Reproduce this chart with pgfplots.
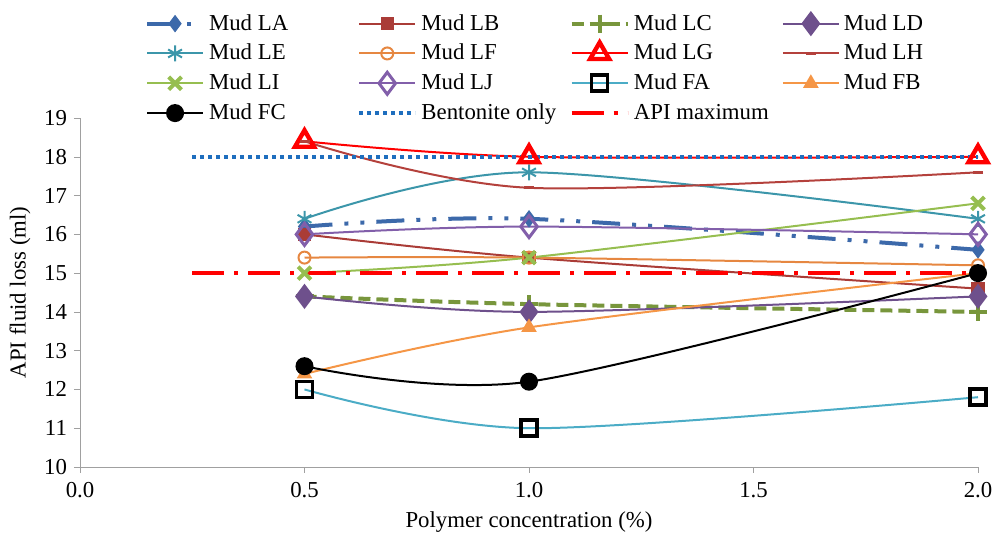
\documentclass[border=0pt]{standalone}
\usepackage{pgfplots}
\pgfplotsset{compat=1.18}
\usepackage{fontspec}
\setmainfont{Liberation Serif}
\definecolor{cLA}{RGB}{60,105,170}
\definecolor{cLB}{RGB}{170,60,55}
\definecolor{cLC}{RGB}{120,150,60}
\definecolor{cLD}{RGB}{110,80,140}
\definecolor{cLE}{RGB}{60,150,170}
\definecolor{cLF}{RGB}{230,135,65}
\definecolor{cLG}{RGB}{255,0,0}
\definecolor{cLH}{RGB}{180,65,60}
\definecolor{cLI}{RGB}{150,190,80}
\definecolor{cLJ}{RGB}{130,95,170}
\definecolor{cFA}{RGB}{75,172,198}
\definecolor{cFB}{RGB}{245,150,70}
\definecolor{cBen}{RGB}{30,110,190}
\definecolor{cAx}{RGB}{160,160,160}
\newcommand{\lt}[1]{\makebox[72pt][l]{#1}}
\begin{document}
\begin{tikzpicture}
\useasboundingbox (-40pt,-36pt) rectangle (457pt,233.5pt);
\begin{axis}[
  scale only axis, width=449pt, height=174.5pt,
  at={(0,0)}, anchor=south west,
  font=\rmfamily\fontsize{11.4}{13}\selectfont,
  xmin=0, xmax=2, ymin=10, ymax=19,
  xtick={0,0.5,1,1.5,2}, ytick={10,11,...,19},
  xticklabel style={yshift=-1pt,/pgf/number format/.cd,fixed,fixed zerofill,precision=1,assume math mode=true},
  yticklabel style={/pgf/number format/assume math mode=true},
  axis x line*=bottom, axis y line*=left,
  axis line style={draw=cAx,-},
  tick style={draw=cAx}, tick align=outside, major tick length=3pt,
  clip=false,
  xlabel={Polymer concentration (\%)},
  ylabel={API fluid loss (ml)},
  every axis x label/.style={at={(axis description cs:0.5,0)}, yshift=-27.5pt, anchor=center},
  every axis y label/.style={at={(axis description cs:0,0.5)}, xshift=-30pt, rotate=90, anchor=center},
  legend columns=4,
  legend cell align=left,
  legend style={draw=none, fill=none, at={(axis description cs:0.072,1.31)}, anchor=north west,
     inner sep=0pt, row sep=1.5pt, font=\rmfamily\fontsize{11.4}{13}\selectfont},
  legend image code/.code={\draw[mark repeat=2,mark phase=2,#1] plot coordinates {(0pt,0pt) (14pt,0pt) (28pt,0pt)};},
  every axis plot/.append style={smooth},
]
% Mud LA
\addplot[color=cLA, line width=2pt, dash pattern=on 14pt off 6pt on 2pt off 6pt on 2pt off 6pt, mark=diamond*, mark size=4pt, mark options={solid, fill=cLA, line width=0.5pt}]
  coordinates {(0.5,16.2) (1.0,16.4) (2.0,15.6)};
\addlegendentry{\lt{Mud LA}}
% Mud LB
\addplot[color=cLB, line width=1pt, mark=square*, mark size=2.8pt, mark options={fill=cLB}]
  coordinates {(0.5,16.0) (1.0,15.4) (2.0,14.6)};
\addlegendentry{\lt{Mud LB}}
% Mud LC
\addplot[color=cLC, line width=2pt, dash pattern=on 6pt off 3pt, mark=+, mark size=4.5pt, mark options={solid, line width=2pt}]
  coordinates {(0.5,14.4) (1.0,14.2) (2.0,14.0)};
\addlegendentry{\lt{Mud LC}}
% Mud LD
\addplot[color=cLD, line width=1pt, mark=diamond*, mark size=5.5pt, mark options={fill=cLD}]
  coordinates {(0.5,14.4) (1.0,14.0) (2.0,14.4)};
\addlegendentry{\lt{Mud LD}}
% Mud LE
\addplot[color=cLE, line width=1pt, mark=asterisk, mark size=4pt, mark options={line width=1pt}]
  coordinates {(0.5,16.4) (1.0,17.6) (2.0,16.4)};
\addlegendentry{\lt{Mud LE}}
% Mud LF
\addplot[color=cLF, line width=1pt, mark=o, mark size=3pt, mark options={fill=white}]
  coordinates {(0.5,15.4) (1.0,15.4) (2.0,15.2)};
\addlegendentry{\lt{Mud LF}}
% Mud LG
\addplot[color=cLG, line width=1pt, mark=triangle, mark size=5.5pt, mark options={fill=white, line width=2.2pt}]
  coordinates {(0.5,18.4) (1.0,18.0) (2.0,18.0)};
\addlegendentry{\lt{Mud LG}}
% Mud LH
\addplot[color=cLH, line width=1pt, mark=-, mark size=2.5pt, mark options={line width=1.5pt}]
  coordinates {(0.5,18.4) (1.0,17.2) (2.0,17.6)};
\addlegendentry{\lt{Mud LH}}
% Mud LI
\addplot[color=cLI, line width=1pt, mark=x, mark size=4.5pt, mark options={line width=2pt}]
  coordinates {(0.5,15.0) (1.0,15.4) (2.0,16.8)};
\addlegendentry{\lt{Mud LI}}
% Mud LJ
\addplot[color=cLJ, line width=1pt, mark=diamond, mark size=5.5pt, mark options={fill=white, line width=1.5pt}]
  coordinates {(0.5,16.0) (1.0,16.2) (2.0,16.0)};
\addlegendentry{\lt{Mud LJ}}
% Mud FA
\addplot[color=cFA, line width=1pt, mark=square, mark size=4pt, mark options={draw=black, fill=white, line width=1.8pt}]
  coordinates {(0.5,12.0) (1.0,11.0) (2.0,11.8)};
\addlegendentry{\lt{Mud FA}}
% Mud FB
\addplot[color=cFB, line width=1pt, mark=triangle*, mark size=3.5pt, mark options={fill=cFB}]
  coordinates {(0.5,12.4) (1.0,13.6) (2.0,15.0)};
\addlegendentry{\lt{Mud FB}}
% Mud FC
\addplot[color=black, line width=1pt, mark=*, mark size=4pt, mark options={fill=black}]
  coordinates {(0.5,12.6) (1.0,12.2) (2.0,15.0)};
\addlegendentry{\lt{Mud FC}}
% Bentonite only
\addplot[color=cBen, line width=2.2pt, dash pattern=on 2pt off 2pt, sharp plot, no marks]
  coordinates {(0.25,18.0) (2.0,18.0)};
\addlegendentry{\lt{Bentonite only}}
% API maximum
\addplot[color=red, line width=2.2pt, dash pattern=on 16pt off 5pt on 2pt off 5pt, sharp plot, no marks]
  coordinates {(0.25,15.0) (2.0,15.0)};
\addlegendentry{\lt{API maximum}}
\end{axis}
\end{tikzpicture}
\end{document}
